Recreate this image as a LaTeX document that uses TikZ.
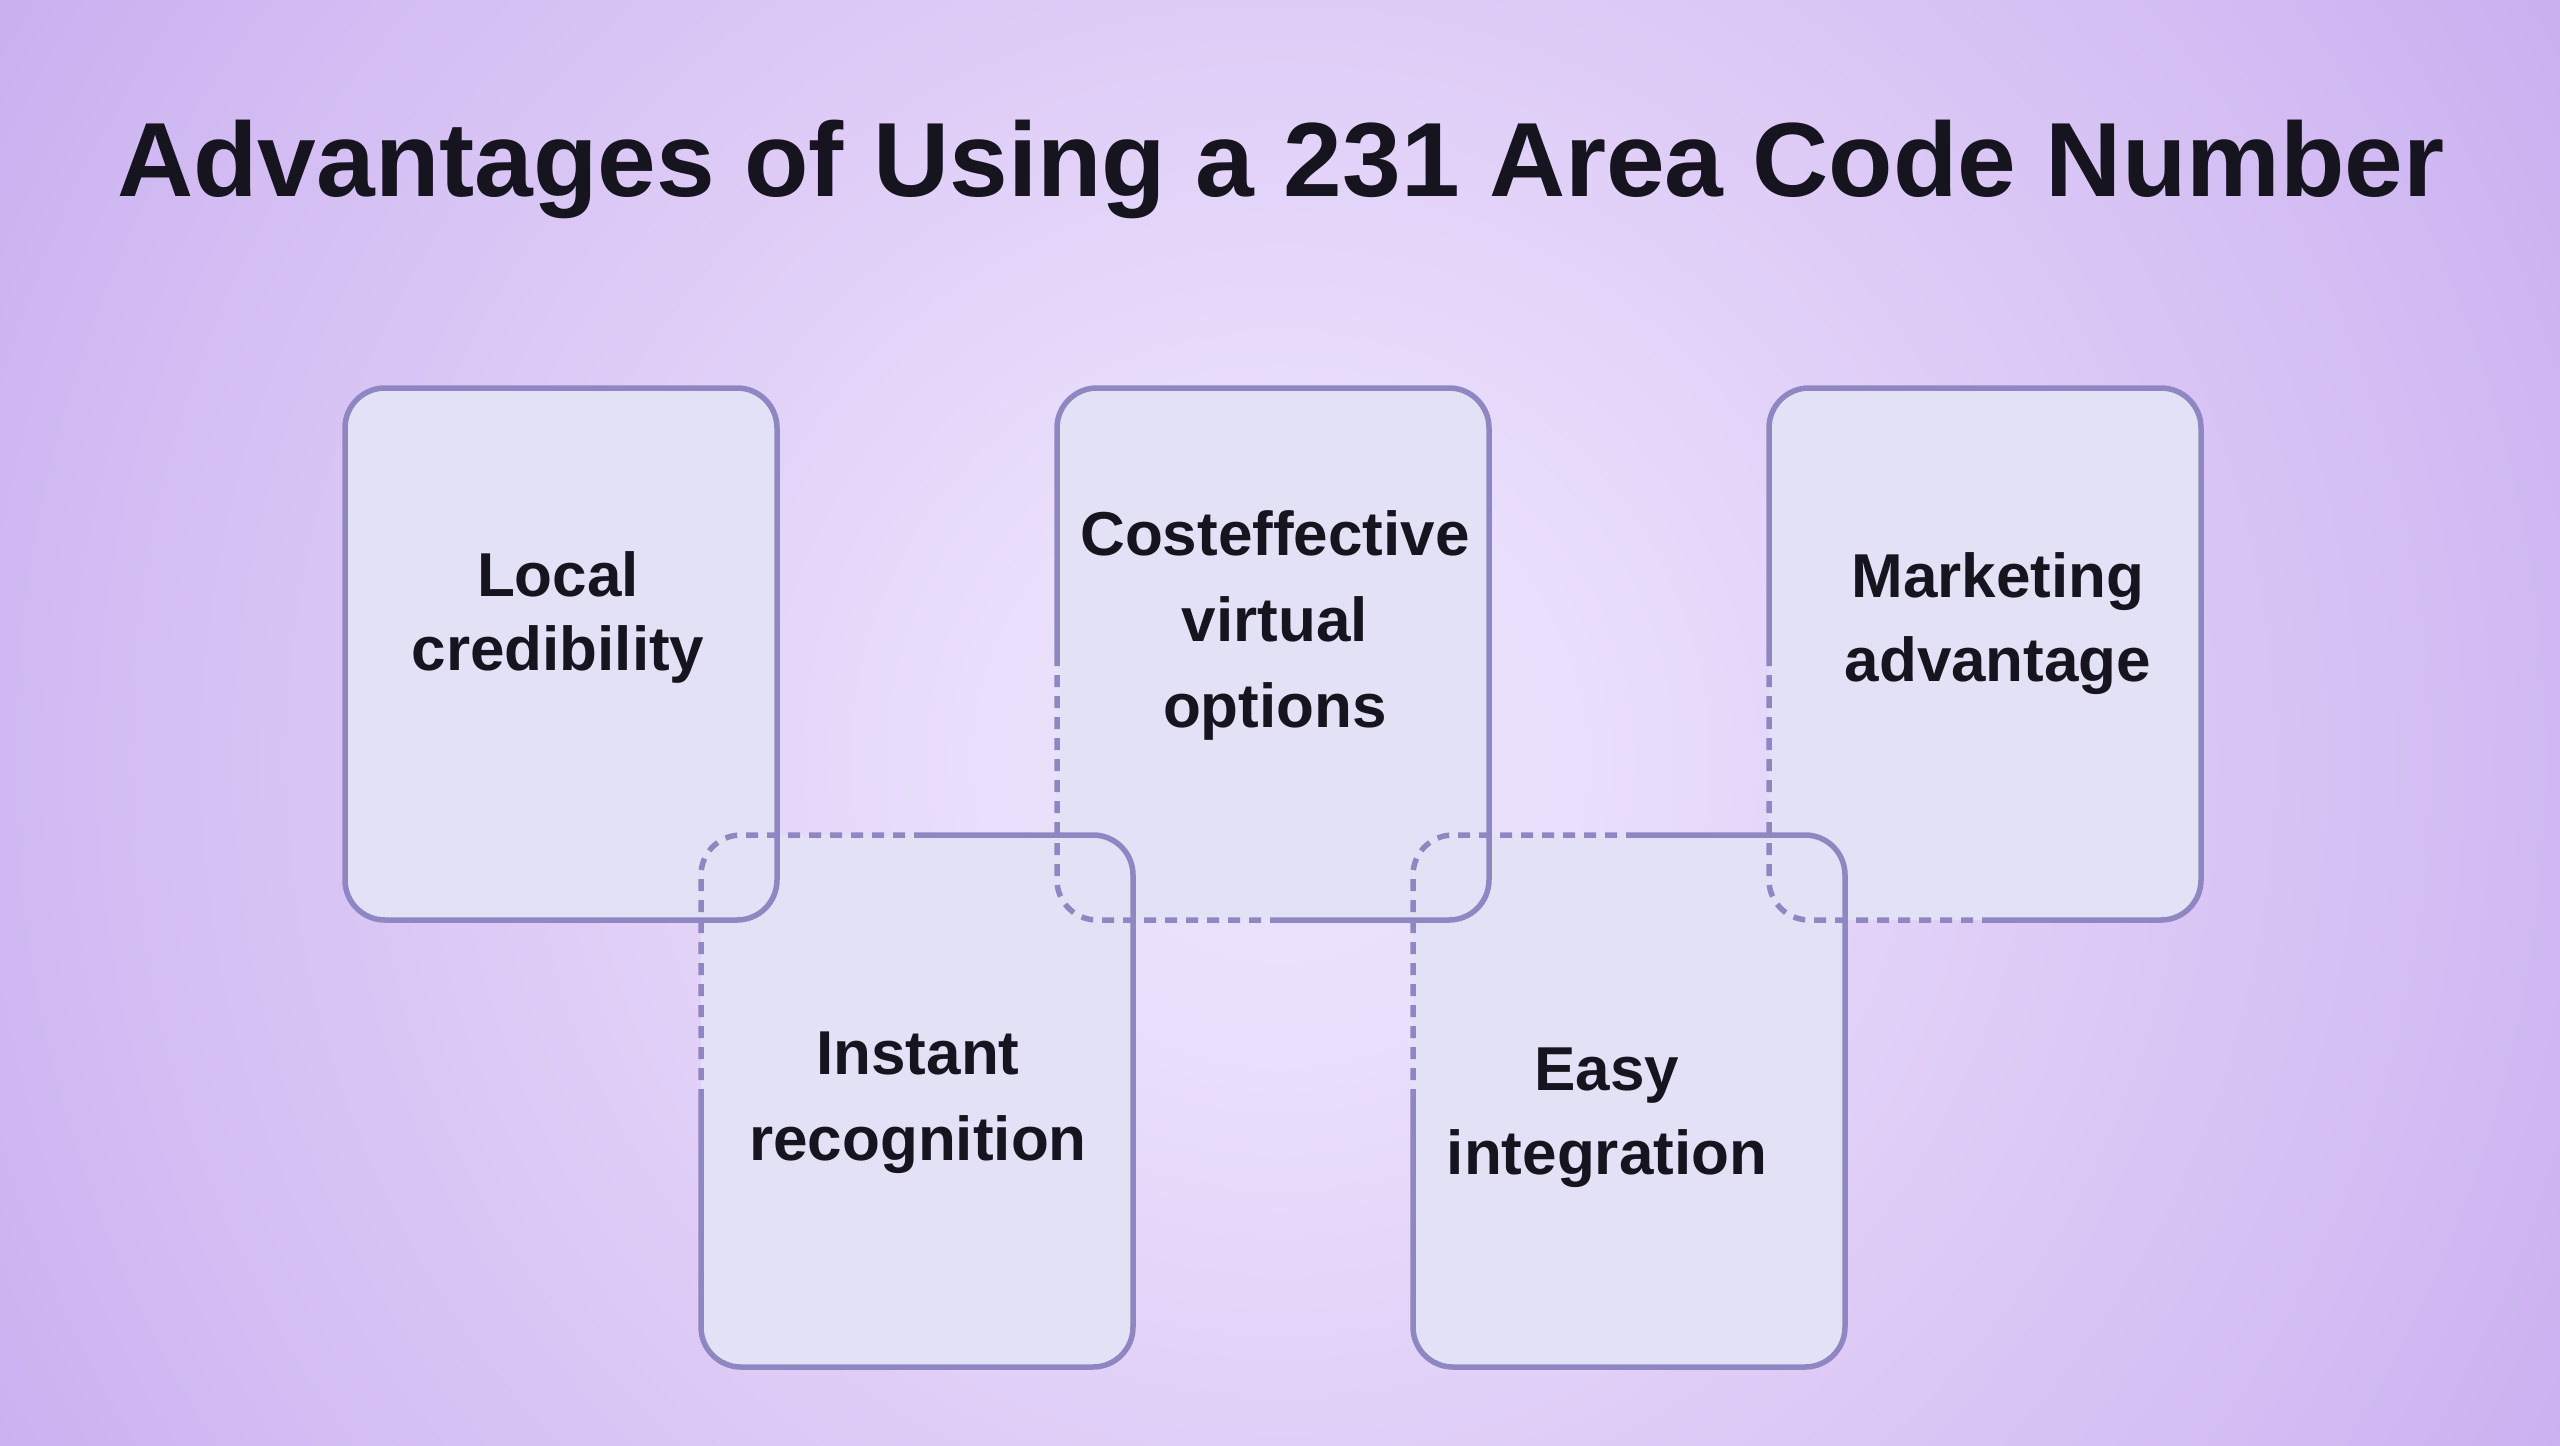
\documentclass[tikz,border=0pt]{standalone}
\usepackage{fontspec}
\setmainfont{Liberation Sans}
\definecolor{bgA}{HTML}{EFE4FD}
\definecolor{bgB}{HTML}{EADFFC}
\definecolor{bgC}{HTML}{DFCDF7}
\definecolor{bgD}{HTML}{D0B9F2}
\definecolor{bgE}{HTML}{CBB0F0}
\definecolor{bgF}{HTML}{C8ADEE}
\definecolor{boxfill}{HTML}{E3E1F5}
\definecolor{boxline}{HTML}{8E87C2}
\definecolor{ink}{HTML}{16151F}
\pgfdeclareradialshading{bgshade}{\pgfpoint{0bp}{0bp}}{color(0bp)=(bgA); color(5bp)=(bgB); color(12.5bp)=(bgC); color(21.75bp)=(bgD); color(25bp)=(bgE); color(36bp)=(bgF); color(50bp)=(bgF)}
\tikzset{
  card/.style={rectangle, rounded corners=40pt, minimum width=432pt, minimum height=532pt, inner sep=0pt, outer sep=0pt, fill=boxfill},
  edgesolid/.style={draw=boxline, line width=5.5pt, rounded corners=40pt},
  edgehidden/.style={draw=boxline, line width=5.5pt, rounded corners=40pt, dash pattern=on 12pt off 9pt},
  cardtext/.style={align=center, text=ink, inner sep=0pt},
  titletext/.style={text=ink, inner sep=0pt, font=\bfseries\fontsize{105.5}{120}\selectfont}
}
\begin{document}
\begin{tikzpicture}[x=1pt,y=-1pt]
\useasboundingbox (0,0) rectangle (2560,1446);
\begin{scope}
\clip (0,0) rectangle (2560,1446);
\shade[shading=bgshade] (-190,-710) rectangle (2750,2230);
\end{scope}

\node[titletext, anchor=base] (title) at (1281,196.5) {Advantages of Using a 231 Area Code Number};

% card fills
\node[card] (b1) at (561,654) {};
\node[card] (b2) at (917,1101) {};
\node[card] (b3) at (1273,654) {};
\node[card] (b4) at (1629,1101) {};
\node[card] (b5) at (1985,654) {};

% outlines
\draw[edgesolid] (b1.north) -- (b1.north east) -- (b1.south east) -- (b1.south west) -- (b1.north west) -- (b1.north);
\draw[edgesolid] (b2.north) -- (b2.north east) -- (b2.south east) -- (b2.south west) -- (b2.west);
\draw[edgehidden] (b2.west) -- (b2.north west) -- (b2.north);
\draw[edgesolid] (b3.south) -- (b3.south east) -- (b3.north east) -- (b3.north west) -- (b3.west);
\draw[edgehidden] (b3.west) -- (b3.south west) -- (b3.south);
\draw[edgesolid] (b4.north) -- (b4.north east) -- (b4.south east) -- (b4.south west) -- (b4.west);
\draw[edgehidden] (b4.west) -- (b4.north west) -- (b4.north);
\draw[edgesolid] (b5.south) -- (b5.south east) -- (b5.north east) -- (b5.north west) -- (b5.west);
\draw[edgehidden] (b5.west) -- (b5.south west) -- (b5.south);

% texts
\node[cardtext, font=\bfseries\fontsize{62}{74}\selectfont] (t1) at (558,617) {Local\\credibility};
\node[cardtext, font=\bfseries\fontsize{62}{86}\selectfont] (t2) at (918,1103) {Instant\\recognition};
\node[cardtext, font=\bfseries\fontsize{62}{86}\selectfont] (t3) at (1275,625) {Costeffective\\virtual\\options};
\node[cardtext, font=\bfseries\fontsize{62}{84}\selectfont] (t4) at (1607,1118) {Easy\\integration};
\node[cardtext, font=\bfseries\fontsize{62}{84}\selectfont] (t5) at (1998,624) {Marketing\\advantage};
\end{tikzpicture}
\end{document}
